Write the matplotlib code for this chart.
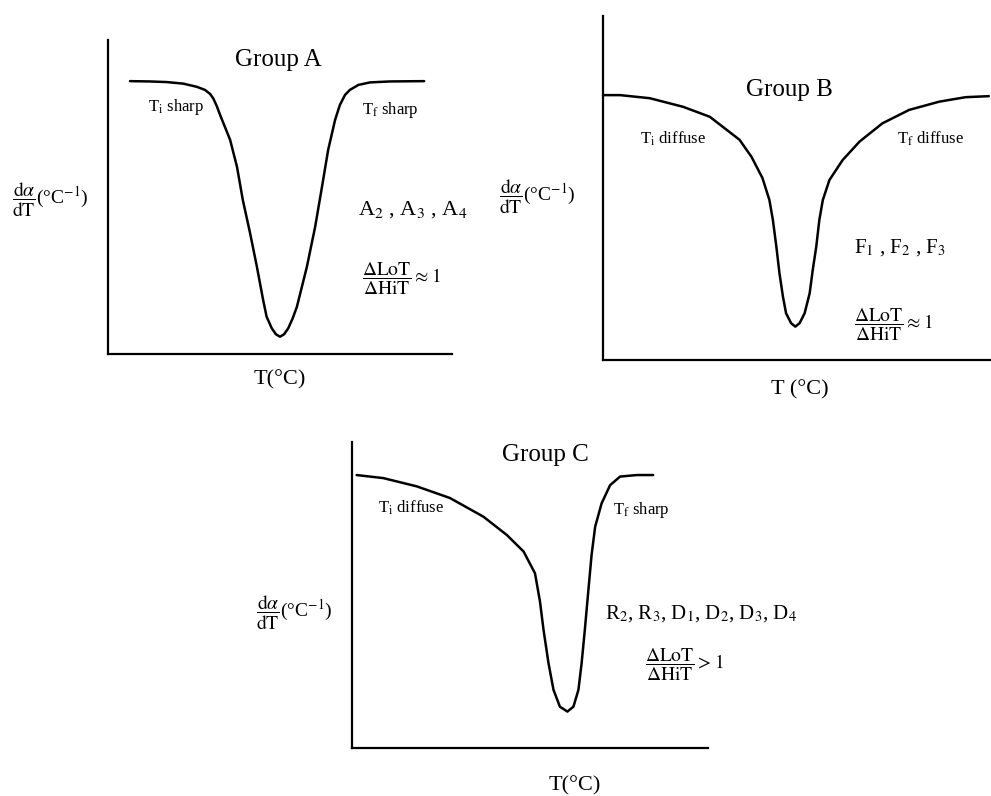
import matplotlib
matplotlib.use("Agg")
import matplotlib.pyplot as plt

plt.rcParams['font.family'] = ['Liberation Serif', 'DejaVu Serif']
plt.rcParams['mathtext.fontset'] = 'stix'

# curves, arbitrary units (0-100 along each axis)
xA = [6.4, 12.2, 17.1, 21.9, 25.8, 28.2, 29.7, 30.6, 31.6, 32.6, 35.5, 37.5, 39.2, 41.3, 43.3, 45.1,
      46.1, 47.6, 48.8, 50.0, 51.2, 52.4, 53.7, 54.9, 57.8, 60.2, 62.2, 64.0, 66.0, 67.4, 68.9, 70.3,
      72.8, 76.2, 82.0, 91.9]
yA = [86.9, 86.8, 86.6, 86.1, 85.1, 84.1, 82.8, 81.4, 79.0, 76.1, 68.2, 59.6, 49.0, 38.5, 27.7, 17.2,
      11.9, 8.2, 6.3, 5.5, 6.3, 8.2, 11.4, 15.0, 27.7, 40.4, 53.2, 65.0, 74.5, 79.3, 82.5, 84.1,
      85.7, 86.5, 86.8, 86.9]

xB = [0, 4.4, 12.1, 20.7, 27.6, 35.3, 38.4, 41.2, 43.0, 43.9, 44.8, 45.6, 46.5, 47.3, 48.6, 49.7,
      50.8, 52.1, 53.4, 54.2, 55.1, 55.9, 56.8, 58.5, 61.9, 66.3, 72.2, 79.1, 86.9, 93.7, 99.7]
yB = [77.0, 77.0, 76.1, 73.6, 70.7, 64.0, 59.0, 52.9, 46.5, 40.7, 32.9, 25.2, 18.4, 13.6, 10.7, 9.7,
      10.7, 13.6, 19.4, 26.2, 32.9, 40.7, 46.5, 52.3, 58.1, 63.5, 68.8, 72.7, 75.1, 76.4, 76.7]

xC = [1.3, 8.8, 18.2, 27.5, 36.9, 43.5, 48.2, 51.4, 52.8, 53.8, 55.2, 56.6, 58.4, 60.5, 62.2, 63.6,
      64.5, 65.4, 66.4, 67.3, 68.3, 70.1, 72.5, 75.3, 80.0, 84.6]
yC = [89.2, 88.2, 85.5, 81.7, 75.6, 69.6, 64.2, 57.1, 47.9, 38.6, 27.7, 19.0, 13.5, 11.9, 13.5, 19.0,
      27.7, 38.6, 51.6, 63.1, 72.3, 79.9, 85.9, 88.7, 89.2, 89.2]

titles = ["Group A", "Group B", "Group C"]
left_labels = [r"T$_\mathrm{i}$ sharp", r"T$_\mathrm{i}$ diffuse", r"T$_\mathrm{i}$ diffuse"]
right_labels = [r"T$_\mathrm{f}$ sharp", r"T$_\mathrm{f}$ diffuse", r"T$_\mathrm{f}$ sharp"]
members = [r"A$_2$ , A$_3$ , A$_4$", r"F$_1$ , F$_2$ , F$_3$",
           r"R$_2$, R$_3$, D$_1$, D$_2$, D$_3$, D$_4$"]
member_sizes = [16, 15, 15]
ratios = [r"$\dfrac{\Delta\mathrm{LoT}}{\Delta\mathrm{HiT}}\approx 1$",
          r"$\dfrac{\Delta\mathrm{LoT}}{\Delta\mathrm{HiT}}\approx 1$",
          r"$\dfrac{\Delta\mathrm{LoT}}{\Delta\mathrm{HiT}} > 1$"]
xlabels = ["T(°C)", "T (°C)", "T(°C)"]
ylabel = r"$\dfrac{\mathrm{d}\alpha}{\mathrm{dT}}$(°C$^{-1}$)"

W, H = 991, 796
fig = plt.figure(figsize=(W / 100, H / 100), dpi=100)

# axes boxes in pixels: left, right, top, bottom
boxes = [(108, 452, 40, 354), (603, 990, 16, 360), (352, 708, 442, 748)]
# text positions in axes units
pos = [
    dict(title=(49.4, 93.6), li=(11.6, 78.7), ri=(73.8, 77.7), yl=(-28, 49), mem=(72.7, 45.9), rat=(73.8, 24), xl=(50, -8.3)),
    dict(title=(48.2, 78.5), li=(9.5, 64.2), ri=(76, 64.2), yl=(-27, 47.4), mem=(64.9, 32.6), rat=(64.9, 10.2), xl=(50.8, -8.7)),
    dict(title=(54.2, 95.8), li=(7.3, 78.4), ri=(73.3, 77.8), yl=(-27, 44.1), mem=(71.1, 44.1), rat=(82.3, 27.1), xl=(62.6, -12.4)),
]
curves = [(xA, yA), (xB, yB), (xC, yC)]

for i, (l, r, t, b) in enumerate(boxes):
    ax = fig.add_axes([l / W, 1 - b / H, (r - l) / W, (b - t) / H])
    ax.set_xlim(0, 100)
    ax.set_ylim(0, 100)
    for s in ['top', 'right']:
        ax.spines[s].set_visible(False)
    for s in ['left', 'bottom']:
        ax.spines[s].set_linewidth(1.6)
    ax.set_xticks([])
    ax.set_yticks([])
    ax.patch.set_alpha(0)

    x, y = curves[i]
    ax.plot(x, y, color='black', lw=1.8, solid_capstyle='round',
            solid_joinstyle='round', clip_on=False)

    p = pos[i]
    ax.text(*p['title'], titles[i], fontsize=18, ha='center', va='center')
    ax.text(*p['li'], left_labels[i], fontsize=12, ha='left', va='center')
    ax.text(*p['ri'], right_labels[i], fontsize=12, ha='left', va='center')
    ax.text(*p['yl'], ylabel, fontsize=14, ha='left', va='center', clip_on=False)
    ax.text(*p['mem'], members[i], fontsize=member_sizes[i], ha='left', va='center', clip_on=False)
    ax.text(*p['rat'], ratios[i], fontsize=14, ha='left', va='center', clip_on=False)
    ax.text(*p['xl'], xlabels[i], fontsize=16, ha='center', va='center', clip_on=False)

fig.savefig("out.png", dpi=100)
